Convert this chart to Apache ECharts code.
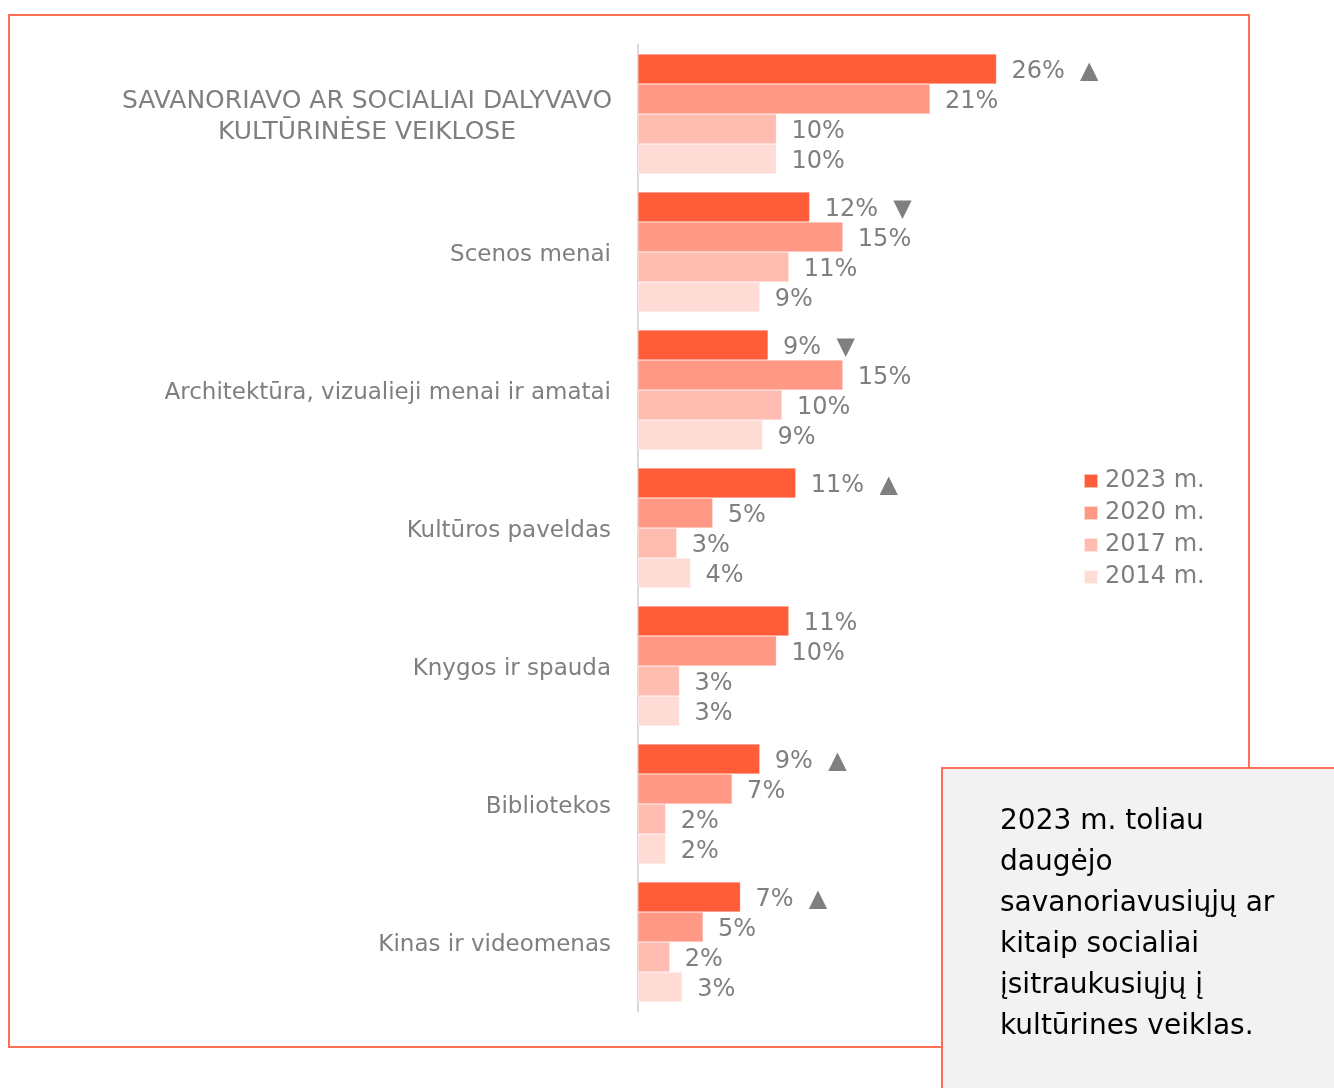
<!DOCTYPE html>
<html>
<head>
<meta charset="utf-8">
<script src="https://cdn.jsdelivr.net/npm/echarts@6/dist/echarts.min.js"></script>
<style>
  html, body { margin: 0; padding: 0; background: #fff; }
  #chart { width: 1334px; height: 1088px; }
</style>
</head>
<body>
<div id="chart"></div>
<script>
// categories, top to bottom
const categories = [
    'SAVANORIAVO AR SOCIALIAI DALYVAVO\nKULTŪRINĖSE VEIKLOSE',
    'Scenos menai',
    'Architektūra, vizualieji menai ir amatai',
    'Kultūros paveldas',
    'Knygos ir spauda',
    'Bibliotekos',
    'Kinas ir videomenas'
]
const years = ['2023 m.', '2020 m.', '2017 m.', '2014 m.']

// shares in %
const v2023 = [25.9, 12.4, 9.4, 11.4, 10.9, 8.8, 7.4]
const v2020 = [21.1, 14.8, 14.8, 5.4, 10.0, 6.8, 4.7]
const v2017 = [10.0, 10.9, 10.4, 2.8, 3.0, 2.0, 2.3]
const v2014 = [10.0, 8.8, 9.0, 3.8, 3.0, 2.0, 3.2]

// change marks shown next to 2023 values
const trend2023 = ['▲', '▼', '▼', '▲', '', '▲', '▲']

const colors = ['#ff5c3a', '#ff9985', '#ffbcb0', '#ffddd6']
const grey = '#7f7f7f'
const frame = '#ff6f55'
const font = '"DejaVu Sans", Verdana, sans-serif'

let chart = echarts.init(document.getElementById('chart'))

let makeSeries = (name, data, idx) => ({
    name: name,
    type: 'bar',
    data: data,
    barWidth: 30,
    barGap: '0%',
    itemStyle: { color: colors[idx], borderColor: 'rgba(255,255,255,0.6)', borderWidth: 0.5 },
    label: {
        show: true,
        position: 'right',
        distance: 15,
        offset: [0, 3],
        color: grey,
        fontFamily: font,
        fontSize: 24,
        formatter: p => {
            let txt = Math.round(p.value) + '%'
            if (idx === 0 && trend2023[p.dataIndex]) txt += '  ' + trend2023[p.dataIndex]
            return txt
        }
    }
})

chart.setOption({
    animation: false,
    backgroundColor: '#fff',
    grid: { left: 638, top: 45, width: 609, height: 966 },
    legend: {
        orient: 'vertical',
        left: 1083,
        top: 469,
        padding: 0,
        icon: 'rect',
        itemWidth: 14,
        itemHeight: 14,
        itemGap: 8,
        data: years,
        textStyle: { color: grey, fontFamily: font, fontSize: 24, lineHeight: 24, padding: [0, 0, 0, 2] }
    },
    xAxis: {
        type: 'value',
        min: 0,
        max: 44,
        show: false
    },
    yAxis: {
        type: 'category',
        inverse: true,
        data: categories,
        axisTick: { show: false },
        axisLine: { show: true, lineStyle: { color: '#d9d9d9', width: 2 } },
        axisLabel: {
            margin: 27,
            color: grey,
            fontFamily: font,
            fontSize: 23,
            lineHeight: 31,
            padding: [6, 0, 0, 0],
            formatter: val => {
                if (val.indexOf('\n') < 0) return val
                return val.split('\n').map(s => '{c|' + s + '}').join('\n')
            },
            rich: {
                c: { width: 488, align: 'center', color: grey, fontFamily: font, fontSize: 25, lineHeight: 31 }
            }
        }
    },
    series: [
        makeSeries(years[0], v2023, 0),
        makeSeries(years[1], v2020, 1),
        makeSeries(years[2], v2017, 2),
        makeSeries(years[3], v2014, 3)
    ],
    graphic: [
        {
            type: 'rect',
            z: -10,
            shape: { x: 9, y: 15, width: 1240, height: 1032 },
            style: { fill: 'none', stroke: frame, lineWidth: 2 }
        },
        {
            type: 'rect',
            z: 100,
            shape: { x: 942, y: 768, width: 400, height: 330 },
            style: { fill: '#f2f2f2', stroke: frame, lineWidth: 2 }
        },
        {
            type: 'text',
            z: 101,
            left: 1000,
            top: 801,
            style: {
                text: '2023 m. toliau\ndaugėjo\nsavanoriavusiųjų ar\nkitaip socialiai\nįsitraukusiųjų į\nkultūrines veiklas.',
                fill: '#000',
                font: '28px ' + font,
                lineHeight: 41
            }
        }
    ]
})
</script>
</body>
</html>
